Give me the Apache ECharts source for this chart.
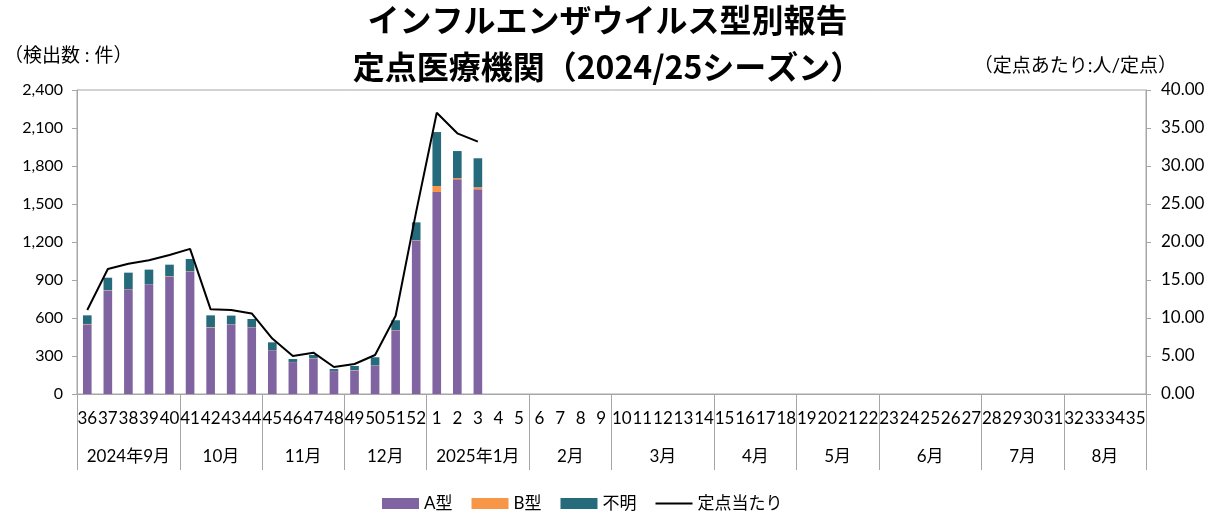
<!DOCTYPE html>
<html>
<head>
<meta charset="utf-8">
<script src="https://cdn.jsdelivr.net/npm/echarts@6/dist/echarts.min.js"></script>
<style>
  html, body { margin: 0; padding: 0; background: #fff; }
  #chart { width: 1215px; height: 513px; }
</style>
</head>
<body>
<div id="chart"></div>
<script>
// ---- data ----
const weeks = ['36','37','38','39','40','41','42','43','44','45','46','47','48','49','50','51','52',
  '1','2','3','4','5','6','7','8','9','10','11','12','13','14','15','16','17','18','19','20','21','22',
  '23','24','25','26','27','28','29','30','31','32','33','34','35'];
const typeA = [550, 818, 826, 866, 925, 963, 524, 548, 527, 346, 252, 280, 181, 185, 225, 503, 1210, 1595, 1695, 1616];
const typeB = [3, 2, 2, 1, 5, 5, 4, 2, 2, 1, 1, 2, 1, 3, 1, 2, 3, 47, 10, 16];
const unknown = [68, 98, 130, 115, 91, 98, 93, 69, 63, 61, 23, 26, 15, 33, 64, 77, 142, 426, 213, 229];
const perSentinel = [11.05, 16.45, 17.15, 17.6, 18.3, 19.1, 11.14, 11.05, 10.6, 7.3, 5.0, 5.44, 3.55, 3.95, 5.13, 10.3, 24.0, 37.0, 34.3, 33.2];
const months = ['2024年9月','10月','11月','12月','2025年1月','2月','3月','4月','5月','6月','7月','8月'];
const monthWeekCounts = [5, 4, 4, 4, 5, 4, 5, 4, 4, 5, 4, 4];
const leftTicks = { min: 0, max: 2400, interval: 300 };
const rightTicks = { min: 0, max: 40, interval: 5 };

// month boundaries / centers in week units (axis values)
const monthBounds = [0];
const monthCenters = [];
monthWeekCounts.forEach((c, i) => {
  const start = monthBounds[i];
  monthCenters.push(start + c / 2);
  monthBounds.push(start + c);
});

const FONT = 'Lato, "Noto Sans CJK JP", sans-serif';
const AXIS_COLOR = '#a6a6a6';

const chart = echarts.init(document.getElementById('chart'));
chart.setOption({
  animation: false,
  backgroundColor: '#ffffff',
  textStyle: { fontFamily: FONT, color: '#000' },
  title: [
    {
      text: 'インフルエンザウイルス型別報告\n定点医療機関（2024/25シーズン）',
      left: 'center', top: -4, padding: 0,
      textStyle: { fontFamily: '"Noto Sans CJK JP", sans-serif', fontSize: 32, fontWeight: 'bold', lineHeight: 47, color: '#000' }
    },
    {
      text: '（検出数 : 件）', left: 4, top: 46, padding: 0,
      textStyle: { fontFamily: FONT, fontSize: 19, fontWeight: 'normal', color: '#000' }
    },
    {
      text: '（定点あたり:人/定点）', right: 38, top: 56, padding: 0,
      textStyle: { fontFamily: FONT, fontSize: 19, fontWeight: 'normal', color: '#000' }
    }
  ],
  grid: {
    left: 77, right: 69, top: 90, bottom: 119,
    show: true, borderColor: AXIS_COLOR, borderWidth: 1, backgroundColor: 'transparent'
  },
  legend: {
    left: 377, top: 490, itemWidth: 37, itemHeight: 11, itemGap: 19,
    symbolKeepAspect: true,
    textStyle: { fontFamily: FONT, fontSize: 17, color: '#000' },
    data: [
      { name: 'A型', icon: 'rect' },
      { name: 'B型', icon: 'rect' },
      { name: '不明', icon: 'rect' },
      { name: '定点当たり', icon: 'path://M0,0 L37,0 L37,2 L0,2 Z' }
    ]
  },
  xAxis: [
    {
      type: 'category', data: weeks, boundaryGap: true, position: 'bottom',
      axisLine: { show: true, lineStyle: { color: AXIS_COLOR, width: 1 } },
      axisTick: { show: false },
      axisLabel: { interval: 0, margin: 16, fontSize: 17, color: '#000', fontFamily: FONT },
      splitLine: { show: false }
    },
    {
      type: 'value', min: 0, max: weeks.length, position: 'bottom',
      axisLine: { show: false },
      axisTick: { show: true, length: 76, customValues: monthBounds, lineStyle: { color: AXIS_COLOR, width: 1 } },
      axisLabel: {
        show: true, margin: 54, fontSize: 17, color: '#000', fontFamily: FONT,
        customValues: monthCenters,
        formatter: function (v) {
          for (let i = 0; i < monthCenters.length; i++) {
            if (Math.abs(monthCenters[i] - v) < 1e-6) return months[i];
          }
          return '';
        }
      },
      splitLine: { show: false }
    }
  ],
  yAxis: [
    {
      type: 'value', min: leftTicks.min, max: leftTicks.max, interval: leftTicks.interval, position: 'left',
      axisLine: { show: true, lineStyle: { color: AXIS_COLOR } },
      axisTick: { show: true, length: 5, lineStyle: { color: AXIS_COLOR } },
      splitLine: { show: false },
      axisLabel: {
        margin: 14, fontSize: 16, color: '#000', fontFamily: FONT,
        formatter: v => String(v).replace(/\B(?=(\d{3})+(?!\d))/g, ',')
      }
    },
    {
      type: 'value', min: rightTicks.min, max: rightTicks.max, interval: rightTicks.interval, position: 'right',
      axisLine: { show: true, lineStyle: { color: AXIS_COLOR } },
      axisTick: { show: true, length: 5, lineStyle: { color: AXIS_COLOR } },
      splitLine: { show: false },
      axisLabel: {
        margin: 15, fontSize: 17, color: '#000', fontFamily: FONT,
        formatter: v => v.toFixed(2)
      }
    }
  ],
  series: [
    {
      name: 'A型', type: 'bar', stack: 'total', data: typeA, barWidth: '42%',
      itemStyle: { color: '#8064A2' }
    },
    {
      name: 'B型', type: 'bar', stack: 'total', data: typeB, barWidth: '42%',
      itemStyle: { color: '#F79646' }
    },
    {
      name: '不明', type: 'bar', stack: 'total', data: unknown, barWidth: '42%',
      itemStyle: { color: '#256B7B' }
    },
    {
      name: '定点当たり', type: 'line', yAxisIndex: 1, data: perSentinel,
      symbol: 'none', showSymbol: false,
      lineStyle: { color: '#000', width: 2 }, itemStyle: { color: '#000' }
    }
  ]
});
</script>
</body>
</html>
